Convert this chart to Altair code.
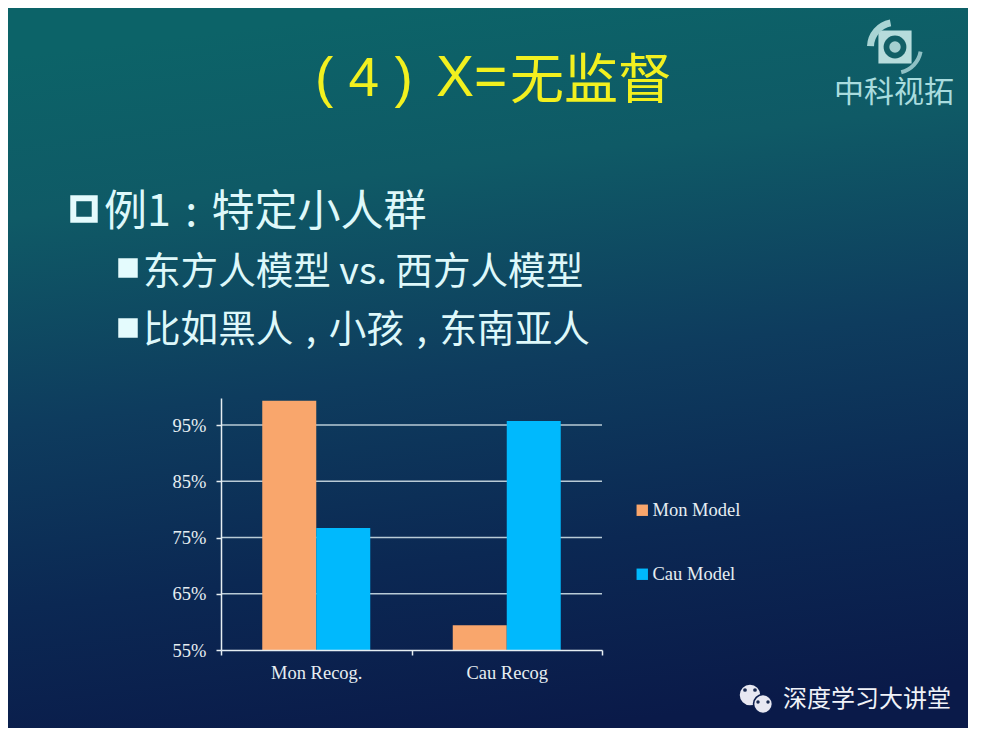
import altair as alt
import pandas as pd

groups = ["Mon Recog.", "Cau Recog"]
series = ["Mon Model", "Cau Model"]
mon_model = [99.3, 59.4]
cau_model = [76.7, 95.7]
y_ticks = [55, 65, 75, 85, 95]
colors = ["#f9a66c", "#00b9fd"]

title_paren = "(\u00a04\u00a0)"
title_x = "X="
title_cn = "无监督"
line1 = "例1\u2004:\u2004特定小人群"
line2 = "东方人模型 vs. 西方人模型"
line3 = "比如黑人\u2004,\u2004小孩\u2004,\u2004东南亚人"
logo_text = "中科视拓"
mark_text_cn = "深度学习大讲堂"

bars_df = pd.DataFrame(
    [{"group": g, "series": series[0], "value": v} for g, v in zip(groups, mon_model)]
    + [{"group": g, "series": series[1], "value": v} for g, v in zip(groups, cau_model)]
)
grid_df = pd.DataFrame({"tick": y_ticks[1:]})

PW, PH = 381, 252
L, T = 213, 390  # plot origin inside the slide
SERIF = "Liberation Serif"
SANS = "Liberation Sans"
CJK = "Noto Sans CJK SC"
AXC = "#e6eef2"


def px(v):  # page x -> plot-relative value
    return alt.value(v - 8 - L)


def py(v):
    return alt.value(v - 8 - T)


yscale = alt.Scale(domain=[55, 99.8], clamp=True, nice=False, zero=False)
yaxis = alt.Axis(
    zindex=1, values=y_ticks, grid=False, labelExpr="datum.value + '%'", title=None,
    domainColor=AXC, tickColor=AXC, labelColor=AXC, labelFont=SERIF,
    labelFontSize=18.5, tickSize=5, labelPadding=10, domainWidth=1.5, tickWidth=1.5,
)

bg = alt.Chart().mark_rect(
    fill=alt.LinearGradient(
        gradient="linear", x1=0.42, y1=0, x2=0.58, y2=1,
        stops=[
            alt.GradientStop(offset=0, color="#0c6368"),
            alt.GradientStop(offset=0.22, color="#0f5a66"),
            alt.GradientStop(offset=0.5, color="#0e3c5e"),
            alt.GradientStop(offset=0.75, color="#0b2853"),
            alt.GradientStop(offset=1, color="#0a1a49"),
        ],
    )
).encode(x=px(8), x2=px(968), y=py(8), y2=py(728))

grid = alt.Chart(grid_df).mark_rule(color="#b9cbd6", strokeWidth=1.5).encode(
    y=alt.Y("tick:Q", scale=yscale, axis=yaxis)
)

bars = alt.Chart(bars_df).mark_bar(stroke=None).encode(
    x=alt.X(
        "group:N", sort=groups, title=None,
        scale=alt.Scale(paddingInner=0, paddingOuter=0),
        axis=alt.Axis(
            zindex=1, labelAngle=0, tickBand="extent", domainColor=AXC, tickColor=AXC,
            labelColor=AXC, labelFont=SERIF, labelFontSize=18.5, tickSize=5, labelPadding=8,
            domainWidth=1.5, tickWidth=1.5,
        ),
    ),
    xOffset=alt.XOffset(
        "series:N", sort=series,
        scale=alt.Scale(paddingInner=0, paddingOuter=0.764),
    ),
    y=alt.Y("value:Q", scale=yscale, title=None, axis=yaxis),
    color=alt.Color(
        "series:N", sort=series, scale=alt.Scale(domain=series, range=colors),
        legend=alt.Legend(
            orient="none", legendX=412, legendY=103, title=None, zindex=1,
            symbolType="square", symbolSize=130, symbolStrokeWidth=0,
            labelColor=AXC, labelFont=SERIF, labelFontSize=18.5, labelOffset=1,
            rowPadding=45, direction="vertical",
        ),
    ),
)


def txt(s, x, y, size, color, font=CJK, weight=400, align="left"):
    return alt.Chart().mark_text(
        text=s, font=font, fontSize=size, color=color, fontWeight=weight,
        align=align, baseline="middle",
    ).encode(x=px(x), y=py(y))


def sq(x, y, size, filled=True, sw=0, color="#e4fbfd"):
    return alt.Chart().mark_point(
        shape="square", filled=filled, size=size, strokeWidth=sw, color=color, opacity=1,
    ).encode(x=px(x), y=py(y))


def dot(x, y, size, color):
    return alt.Chart().mark_point(
        shape="circle", filled=True, size=size, color=color, opacity=1, strokeWidth=0,
    ).encode(x=px(x), y=py(y))


def arc(x, y, r0, r1, t0, t1, color):
    return alt.Chart().mark_arc(
        innerRadius=r0, outerRadius=r1, theta=t0, theta2=t1, color=color,
    ).encode(x=px(x), y=py(y))


YEL = "#f2f01f"
LT = "#def8fa"
texts = [
    txt(title_paren, 315, 79, 55, YEL, font=SANS),
    txt(title_x, 436, 79, 57, YEL, font=SANS),
    txt(title_cn, 510, 83, 54, YEL),
    sq(84, 209, 460, filled=False, sw=6),
    txt(line1, 104, 213, 43, LT),
    sq(128, 268, 380),
    txt(line2, 143, 273, 37.6, LT),
    sq(128, 328, 380),
    txt(line3, 143, 331, 37.6, LT),
    # logo
    sq(895, 47, 1100, color="#b7dcdc"),
    dot(895, 47, 520, "#125f66"),
    dot(895, 47, 130, "#a5cfd0"),
    arc(895, 47, 21, 28, 4.75, 6.1, "#a9d4d4"),
    arc(895, 47, 24, 28, 1.75, 2.9, "#8fc0c4"),
    txt(logo_text, 894, 93, 30, "#a9dcde", align="center"),
    # wechat-like badge
    dot(750, 695, 420, "#e8e8f2"),
    dot(763, 704, 420, "#0c1d4c"),
    dot(763, 704, 300, "#e8e8f2"),
    dot(745, 690, 14, "#1a2a50"),
    dot(755, 690, 14, "#1a2a50"),
    dot(758, 702, 12, "#1a2a50"),
    dot(768, 702, 12, "#1a2a50"),
    txt(mark_text_cn, 783, 700, 24, "#f0f2f8"),
]

chart = alt.layer(bg, grid, bars, *texts).properties(
    width=PW, height=PH,
    autosize=alt.AutoSizeParams(type="none"),
    padding={"left": L, "top": T, "right": 960 - L - PW, "bottom": 720 - T - PH},
    background="white",
).configure_view(stroke=None)

chart.save("out.html", embed_options={"renderer": "svg", "actions": False})
